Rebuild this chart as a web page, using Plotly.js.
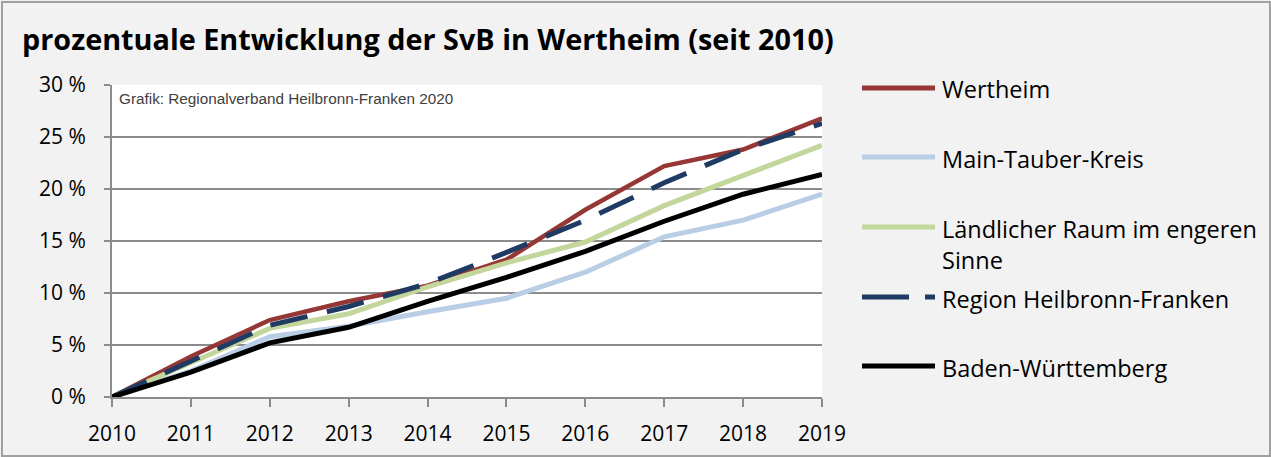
<!DOCTYPE html>
<html>
<head>
<meta charset="utf-8">
<script src="https://cdn.plot.ly/plotly-3.0.1.min.js"></script>
<style>html,body{margin:0;padding:0;background:#f2f2f2;}#chart{width:1271px;height:457px;}</style>
</head>
<body>
<div id="chart"></div>
<script>
const years = [2010, 2011, 2012, 2013, 2014, 2015, 2016, 2017, 2018, 2019];
const wertheim = [0, 3.9, 7.4, 9.2, 10.7, 13.2, 18.0, 22.2, 23.8, 26.8];
const mainTauber = [0, 2.5, 5.8, 6.8, 8.2, 9.5, 12.0, 15.4, 17.0, 19.5];
const laendlich = [0, 3.3, 6.6, 8.0, 10.6, 12.9, 14.9, 18.4, 21.3, 24.2];
const regionHNF = [0, 3.5, 6.9, 8.7, 10.9, 13.9, 17.0, 20.6, 23.8, 26.3];
const bawue = [0, 2.4, 5.2, 6.7, 9.2, 11.5, 14.0, 16.9, 19.5, 21.4];
const seriesNames = ["Wertheim", "Main-Tauber-Kreis", "Ländlicher Raum im engeren<br>Sinne", "Region Heilbronn-Franken", "Baden-Württemberg"];
const yTicks = [0, 5, 10, 15, 20, 25, 30];

const colors = ["#953735", "#b9cde5", "#c3d69b", "#1f3b63", "#000000"];
const widths = [4.5, 5, 5, 5, 5];
const dashes = ["solid", "solid", "solid", "38px,20px", "solid"];
const values = [wertheim, mainTauber, laendlich, regionHNF, bawue];

const traces = values.map((v, i) => ({
  x: years, y: v, type: "scatter", mode: "lines",
  name: seriesNames[i].replace("<br>", " "),
  line: {color: colors[i], width: widths[i], dash: dashes[i]},
  showlegend: false, hoverinfo: "skip"
}));

// plot area in pixels: x 112..822, y 85..397
const L = 112, R = 822, T = 85, B = 397;
const px = p => (p - L) / (R - L);
const py = p => (B - p) / (B - T);

const legY = [88, 157, 227, 297, 366];
const legFont = 23.5;
const shapes = [
  {type: "rect", xref: "paper", yref: "paper", x0: px(2), x1: px(1270), y0: py(456), y1: py(2),
   line: {color: "#a0a0a0", width: 2}, fillcolor: "rgba(0,0,0,0)", layer: "below"}
];
const annotations = [
  {xref: "paper", yref: "paper", x: px(117), y: py(99), xanchor: "left", yanchor: "middle",
   text: "Grafik: Regionalverband Heilbronn-Franken 2020", showarrow: false,
   font: {family: "Liberation Sans, Arial, sans-serif", size: 15.3, color: "#404040"}}
];
seriesNames.forEach((n, i) => {
  shapes.push({type: "line", xref: "paper", yref: "paper", x0: px(862), x1: px(935), y0: py(legY[i]), y1: py(legY[i]),
    line: {color: colors[i], width: 5, dash: i === 3 ? "47px,16px" : "solid"}});
  annotations.push({xref: "paper", yref: "paper", x: px(940), y: py(legY[i] - 16.5), xanchor: "left", yanchor: "top",
    align: "left", text: n, showarrow: false,
    font: {family: "Open Sans, sans-serif", size: legFont, color: "#000000"}});
});

const layout = {
  width: 1271, height: 457,
  paper_bgcolor: "#f2f2f2", plot_bgcolor: "#ffffff",
  margin: {l: L, r: 1271 - R, t: T, b: 457 - B, pad: 0},
  title: {text: "<b>prozentuale Entwicklung der SvB in Wertheim (seit 2010)</b>",
    x: 22 / 1271, xanchor: "left", xref: "container", y: 1 - 40 / 457, yanchor: "middle", yref: "container",
    font: {family: "Open Sans, sans-serif", size: 28.8, color: "#000000"}},
  xaxis: {range: [2010, 2019], tickvals: years, ticktext: years.map(String),
    showgrid: false, zeroline: false, showline: true, linecolor: "#8c8c8c", linewidth: 2,
    ticks: "outside", ticklen: 8, tickwidth: 2, tickcolor: "#8c8c8c", ticklabelstandoff: 9,
    tickfont: {family: "Liberation Sans Narrow, Open Sans, sans-serif", size: 21, color: "#000000"}, fixedrange: true},
  yaxis: {range: [0, 30], tickvals: yTicks, ticktext: yTicks.map(t => t + " %"),
    showgrid: true, gridcolor: "#8c8c8c", gridwidth: 2, zeroline: false,
    showline: true, linecolor: "#8c8c8c", linewidth: 2,
    ticks: "outside", ticklen: 6, tickwidth: 2, tickcolor: "#8c8c8c", ticklabelstandoff: 14,
    tickfont: {family: "Open Sans, sans-serif", size: 21, color: "#000000"}, fixedrange: true},
  shapes: shapes, annotations: annotations, showlegend: false
};

Plotly.newPlot("chart", traces, layout, {displayModeBar: false, staticPlot: true});
</script>
</body>
</html>
